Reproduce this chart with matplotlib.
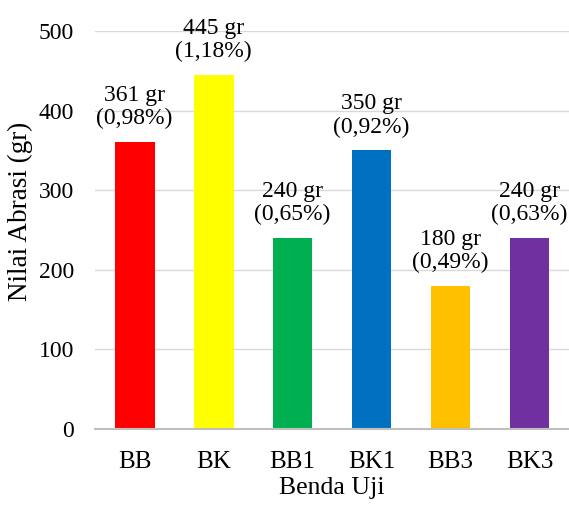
import matplotlib
matplotlib.use("Agg")
import matplotlib.pyplot as plt

categories = ["BB", "BK", "BB1", "BK1", "BB3", "BK3"]
abrasion_gr = [361, 445, 240, 350, 180, 240]
abrasion_pct = ["0,98%", "1,18%", "0,65%", "0,92%", "0,49%", "0,63%"]
colors = ["#FF0000", "#FFFF00", "#00B050", "#0070C0", "#FFC000", "#7030A0"]
yticks = [0, 100, 200, 300, 400, 500]

plt.rcParams["font.family"] = ["Liberation Serif", "DejaVu Serif"]

fig = plt.figure(figsize=(5.69, 5.13), dpi=100)
ax = fig.add_axes([0.167, 0.1637, 0.833, 0.7759])

x = range(len(categories))
bars = ax.bar(x, abrasion_gr, width=0.506, color=colors, zorder=3)

for xi, v, p in zip(x, abrasion_gr, abrasion_pct):
    ax.annotate(f"{v} gr\n({p})", xy=(xi, v), xytext=(0, 9),
                textcoords="offset points", ha="center", va="bottom",
                fontsize=17, linespacing=1.15, clip_on=False)

ax.set_xlim(-0.5, len(categories) - 0.5)
ax.set_ylim(0, 500)
ax.set_yticks(yticks)
ax.set_xticks(list(x))
ax.set_xticklabels(categories)
ax.tick_params(axis="y", length=0, labelsize=17, pad=15)
ax.tick_params(axis="x", length=0, labelsize=18, pad=16)

ax.grid(axis="y", color="#D9D9D9", linewidth=1, zorder=0)
for side in ["top", "right", "left"]:
    ax.spines[side].set_visible(False)
ax.spines["bottom"].set_color("#BFBFBF")
ax.spines["bottom"].set_linewidth(1.5)
ax.spines["bottom"].set_zorder(4)

ax.set_ylabel("Nilai Abrasi (gr)", fontsize=19.5)
ax.yaxis.set_label_coords(-0.131, 0.548)
ax.set_xlabel("Benda Uji", fontsize=18.5, labelpad=3)

fig.savefig("out.png", dpi=100)
